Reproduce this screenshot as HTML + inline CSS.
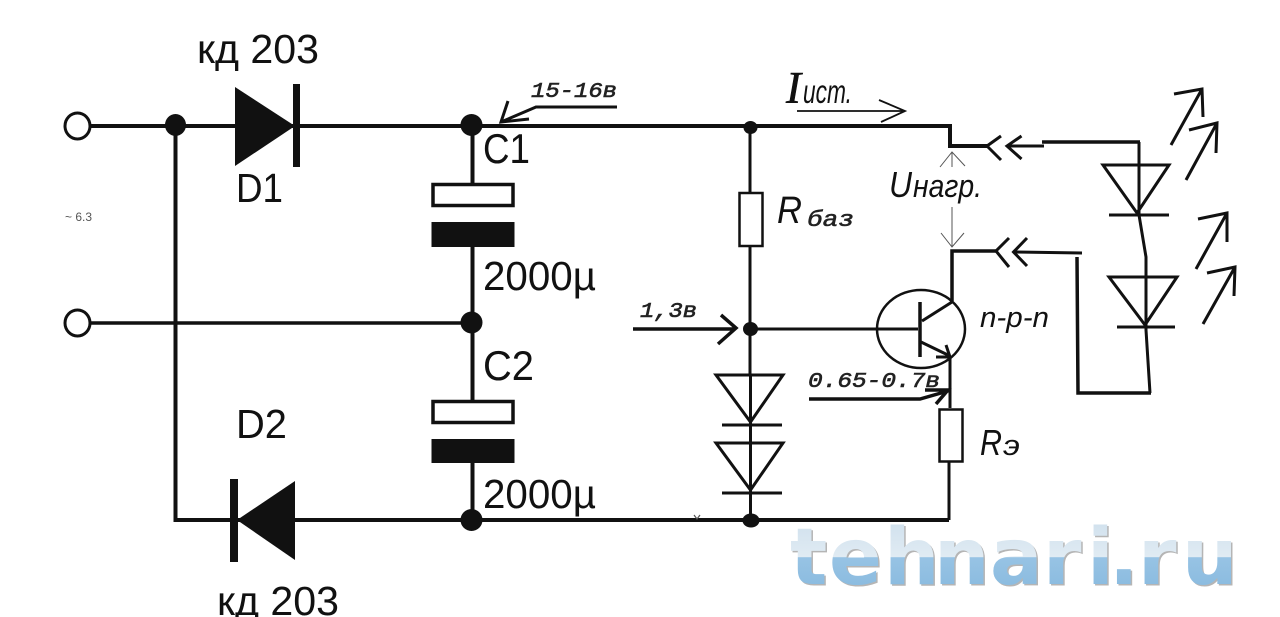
<!DOCTYPE html>
<html><head><meta charset="utf-8"><style>
html,body{margin:0;padding:0;background:#fff;width:1280px;height:617px;overflow:hidden}
svg{display:block}
.s{font-family:"Liberation Sans",sans-serif;fill:#111}
.i{font-style:italic}
.m{font-family:"Liberation Mono",monospace;font-style:italic;fill:#222;stroke:#222;stroke-width:.6}
</style></head><body>
<svg width="1280" height="617" viewBox="0 0 1280 617" xmlns="http://www.w3.org/2000/svg">
<defs>
<linearGradient id="wm" x1="0" y1="518" x2="0" y2="585" gradientUnits="userSpaceOnUse">
<stop offset="0" stop-color="#cfe0ed"/><stop offset="0.58" stop-color="#e0ebf3"/>
<stop offset="0.59" stop-color="#97c3e4"/><stop offset="1" stop-color="#8cbce0"/>
</linearGradient>
</defs>
<rect width="1280" height="617" fill="#fff"/>

<!-- watermark -->
<text x="791.500 830.500 885.500 935.500 991.500 1044.500 1088.500 1110.500 1139.500 1183.500" y="585.500" font-family="DejaVu Sans" font-weight="bold" font-size="78" fill="#b5b5b5">tehnari.ru</text>
<text x="790 829 884 934 990 1043 1087 1109 1138 1182" y="584" font-family="DejaVu Sans" font-weight="bold" font-size="78" fill="url(#wm)">tehnari.ru</text>

<g fill="none" stroke="#111" stroke-linecap="butt">
<!-- left wires -->
<path d="M90 126H950V146H989" stroke-width="4"/>
<path d="M175.500 126V520H949" stroke-width="4"/>
<path d="M90 323H472" stroke-width="3.500"/>
<path d="M472.500 126V183M472.500 247V400M472.500 463V520" stroke-width="4"/>
<!-- terminals -->
<ellipse cx="77.500" cy="126" rx="12.500" ry="13" stroke-width="3" fill="#fff"/>
<ellipse cx="77.500" cy="323" rx="12.500" ry="13" stroke-width="3" fill="#fff"/>
<!-- capacitors -->
<rect x="433" y="184.500" width="80" height="21" stroke-width="3.500" fill="#fff"/>
<rect x="433" y="401.500" width="80" height="21" stroke-width="3.500" fill="#fff"/>
<!-- R base wire -->
<path d="M750 127V192M750 246V375M750.500 421V520" stroke-width="3"/>
<rect x="739.500" y="193" width="23" height="53" stroke-width="2.500" fill="#fff"/>
<path d="M750 329H918" stroke-width="3"/>
<!-- transistor -->
<ellipse cx="921" cy="329" rx="44" ry="39" stroke-width="2.500"/>
<path d="M920 302V357" stroke-width="3.500"/>
<path d="M922 321L952 302" stroke-width="3"/>
<path d="M921 342L950 356" stroke-width="3"/>
<path d="M936 357H950L946 345" stroke-width="3"/>
<path d="M952 301V251H996" stroke-width="3.500"/>
<path d="M950 357V408" stroke-width="3"/>
<rect x="939.500" y="409.500" width="23" height="52" stroke-width="2.500" fill="#fff"/>
<path d="M949 462V520" stroke-width="3"/>
<!-- base diodes -->
<path d="M716 375H783L750.500 422Z" stroke-width="3"/>
<path d="M722 425H782" stroke-width="3"/>
<path d="M716 443H783L750.500 490Z" stroke-width="3"/>
<path d="M722 493H782" stroke-width="3"/>
<path d="M750.500 375V520" stroke-width="3"/>
<!-- connectors -->
<path d="M1001 136L987 146L1001 160" stroke-width="3"/>
<path d="M1021.500 136L1007 146L1021.500 159" stroke-width="3"/>
<path d="M1007 146H1044" stroke-width="3"/>
<path d="M1042 142H1140" stroke-width="3.500"/>
<path d="M1009 238L996 251L1009 267" stroke-width="3"/>
<path d="M1027 238L1013.500 252L1027 266" stroke-width="3"/>
<path d="M1013.500 252L1082 253" stroke-width="3"/>
<path d="M1077 257L1078 393H1151" stroke-width="3.500"/>
<!-- LEDs -->
<path d="M1139 142V215L1146 257V330L1150 393" stroke-width="3"/>
<path d="M1103 165H1169L1137 213Z" stroke-width="3"/>
<path d="M1109 215H1169" stroke-width="3"/>
<path d="M1109 277H1177L1145 325Z" stroke-width="3"/>
<path d="M1117 327H1175" stroke-width="3"/>
<path d="M1171 145L1202 89M1174 94L1202 89L1203 117" stroke-width="3"/>
<path d="M1186 180L1217 123M1189 130L1217 123L1216 153" stroke-width="3"/>
<path d="M1196 269L1227 213M1198 219L1227 213V242" stroke-width="3"/>
<path d="M1203 324L1235 267M1207 273L1235 267L1234 296" stroke-width="3"/>
<!-- I arrow -->
<path d="M797 111H905M879 100L905 111L881 122" stroke-width="1.800"/>
<!-- U arrows -->
<path d="M952 152V167M940 167L952 152L965 166" stroke-width="1" stroke="#555"/>
<path d="M952 207V247M941 233L952 247L964 233" stroke-width="1" stroke="#555"/>
<!-- voltage arrows -->
<path d="M617 107H536L501 122M508 101L501 122L529 119" stroke-width="3"/>
<path d="M633 329H734M721 315L736 328L718 344" stroke-width="3.500"/>
<path d="M809 399H920L948 391M925 390H948L936 404" stroke-width="3.500"/>
<path d="M694 515L697 519L700 515" stroke-width="1.200" stroke="#555"/>
</g>

<!-- filled parts -->
<g fill="#111">
<path d="M235 87L295 126L235 166Z"/>
<rect x="293" y="84" width="7" height="83"/>
<path d="M237 520L295 481V560Z"/>
<rect x="230" y="479" width="8" height="83"/>
<rect x="431.500" y="222" width="83" height="25"/>
<rect x="431.500" y="439" width="83" height="24"/>
<ellipse cx="175.500" cy="125" rx="10.500" ry="11"/>
<ellipse cx="471.500" cy="125" rx="11" ry="11"/>
<ellipse cx="471.500" cy="322.500" rx="11" ry="11"/>
<ellipse cx="471.500" cy="520" rx="11" ry="11"/>
<ellipse cx="750.500" cy="127.500" rx="7" ry="6.500"/>
<ellipse cx="750.500" cy="329" rx="7.500" ry="7"/>
<ellipse cx="751" cy="520.500" rx="8.500" ry="7"/>
</g>

<!-- labels -->
<g class="s">
<text x="197" y="63" font-size="41" textLength="122" lengthAdjust="spacingAndGlyphs">кд 203</text>
<text x="217" y="615" font-size="41" textLength="122" lengthAdjust="spacingAndGlyphs">кд 203</text>
<text x="236" y="202" font-size="41" textLength="47" lengthAdjust="spacingAndGlyphs">D1</text>
<text x="236" y="438" font-size="41" textLength="51" lengthAdjust="spacingAndGlyphs">D2</text>
<text x="483" y="163" font-size="42" textLength="47" lengthAdjust="spacingAndGlyphs">C1</text>
<text x="483" y="380" font-size="42" textLength="51" lengthAdjust="spacingAndGlyphs">C2</text>
<text x="483" y="290" font-size="41" textLength="113" lengthAdjust="spacingAndGlyphs">2000µ</text>
<text x="483" y="508" font-size="41" textLength="113" lengthAdjust="spacingAndGlyphs">2000µ</text>
<text x="65" y="221" font-size="12" textLength="27" lengthAdjust="spacingAndGlyphs" style="fill:#555">~ 6.3</text>
<text class="i" x="777" y="223" font-size="38" textLength="25" lengthAdjust="spacingAndGlyphs">R</text>
<text class="i" x="980" y="455" font-size="36" textLength="22" lengthAdjust="spacingAndGlyphs">R</text>
<text class="i" x="1003" y="455" font-size="29" textLength="17" lengthAdjust="spacingAndGlyphs">э</text>
<text class="i" x="889" y="197" font-size="36" textLength="23" lengthAdjust="spacingAndGlyphs">U</text>
<text class="i" x="913" y="197" font-size="32" textLength="69" lengthAdjust="spacingAndGlyphs">нагр.</text>
<text class="i" x="803" y="103" font-size="33" textLength="49" lengthAdjust="spacingAndGlyphs">ист.</text>
<text class="i" x="980" y="327" font-size="29" textLength="69" lengthAdjust="spacingAndGlyphs">n-p-n</text>
</g>
<text x="786" y="103" font-family="Liberation Serif" font-style="italic" font-size="45" textLength="15" lengthAdjust="spacingAndGlyphs" fill="#111" stroke="#111" stroke-width=".6">I</text>
<text class="m" x="531" y="97" font-size="21" textLength="86" lengthAdjust="spacingAndGlyphs">15-16в</text>
<text class="m" x="640" y="317" font-size="21" textLength="57" lengthAdjust="spacingAndGlyphs">1,3в</text>
<text class="m" x="808" y="387" font-size="21" textLength="132" lengthAdjust="spacingAndGlyphs">0.65-0.7в</text>
<text class="m" x="807" y="226" font-size="22" textLength="47" lengthAdjust="spacingAndGlyphs">баз</text>
</svg>
</body></html>
